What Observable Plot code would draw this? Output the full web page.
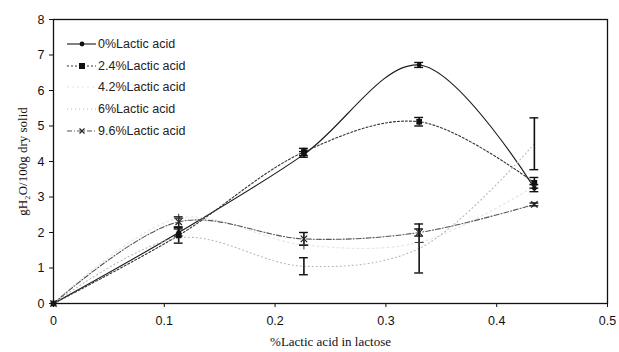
<!DOCTYPE html>
<html>
<head>
<meta charset="utf-8">
<script src="https://cdn.jsdelivr.net/npm/d3@7"></script>
<script src="https://cdn.jsdelivr.net/npm/@observablehq/plot@0.6"></script>
<style>
  body { margin: 0; background: #fff; }
  #wrap { position: relative; width: 619px; height: 352px; }
  svg.chart { font-family: "Liberation Sans", Arial, sans-serif; font-size: 12.5px; }
  g[aria-label="x-axis label"] text, g[aria-label="y-axis label"] text {
    font-family: "Liberation Serif", "Times New Roman", serif; font-size: 13px;
  }
  #legend { position: absolute; left: 66px; top: 33px; font-family: "Liberation Sans", Arial, sans-serif; font-size: 12.5px; color: #222; }
  #legend .row { height: 21.8px; display: flex; align-items: center; }
  #legend svg { width: 31px; height: 12px; margin-right: 1px; }
</style>
</head>
<body>
<div id="wrap"></div>
<script>
const xs = [0, 0.113, 0.226, 0.330, 0.434];
const seriesNames = ["0%Lactic acid", "2.4%Lactic acid", "4.2%Lactic acid", "6%Lactic acid", "9.6%Lactic acid"];
const values = {
  "0%Lactic acid":   [0, 2.0, 4.2, 6.72, 3.25],
  "2.4%Lactic acid": [0, 1.92, 4.27, 5.12, 3.4],
  "4.2%Lactic acid": [0, 2.4, 1.65, 1.72, 3.3],
  "6%Lactic acid":   [0, 1.85, 1.05, 1.55, 4.5],
  "9.6%Lactic acid": [0, 2.3, 1.82, 2.0, 2.79]
};
const errors = {
  "0%Lactic acid":   [0, 0.1, 0.08, 0.07, 0.1],
  "2.4%Lactic acid": [0, 0.22, 0.1, 0.12, 0.15],
  "4.2%Lactic acid": [0, 0, 0, 0, 0],
  "6%Lactic acid":   [0, 0, 0.24, 0.69, 0.73],
  "9.6%Lactic acid": [0, 0.14, 0.18, 0.1, 0.04]
};
const strokes = ["#1a1a1a", "#333333", "#e4e4e4", "#b8b8b8", "#555555"];
const dashes = ["none", "2,2", "2,3", "1,3", "5,2,1,2"];
const symbols = ["circle", "square", null, null, "times"];
const yTicks = [0, 1, 2, 3, 4, 5, 6, 7, 8];
const xTicks = [0, 0.1, 0.2, 0.3, 0.4, 0.5];

const rows = [];
seriesNames.forEach((s, si) => values[s].forEach((v, i) => rows.push({s, si, x: xs[i], y: v, e: errors[s][i]})));
const errRows = rows.filter(d => d.e > 0);
const capW = 0.004;

const marks = [];
seriesNames.forEach((s, si) => {
  marks.push(Plot.line(rows.filter(d => d.si === si), {
    x: "x", y: "y", curve: "catmull-rom", stroke: strokes[si], strokeWidth: 1.1,
    strokeDasharray: dashes[si]
  }));
});
marks.push(Plot.ruleX(errRows, {x: "x", y1: d => d.y - d.e, y2: d => d.y + d.e, stroke: "#111", strokeWidth: 1.6}));
marks.push(Plot.ruleY(errRows, {y: d => d.y - d.e, x1: d => d.x - capW, x2: d => d.x + capW, stroke: "#111", strokeWidth: 1.4}));
marks.push(Plot.ruleY(errRows, {y: d => d.y + d.e, x1: d => d.x - capW, x2: d => d.x + capW, stroke: "#111", strokeWidth: 1.4}));
seriesNames.forEach((s, si) => {
  if (!symbols[si]) return;
  const pts = rows.filter(d => d.si === si);
  if (symbols[si] === "times") {
    marks.push(Plot.dot(pts, {x: "x", y: "y", symbol: "times", r: 3, stroke: "#222", strokeWidth: 1.2}));
  } else {
    marks.push(Plot.dot(pts, {x: "x", y: "y", symbol: symbols[si], r: symbols[si] === "square" ? 3.2 : 2.4, fill: "#111", stroke: "none"}));
  }
});
// plus markers of the faint 4.2% series
marks.push(Plot.dot(rows.filter(d => d.si === 2 && d.x > 0 && d.x < 0.4), {x: "x", y: "y", symbol: "plus", r: 3, stroke: "#333", strokeWidth: 1}));
marks.push(Plot.frame({stroke: "#111", strokeWidth: 1.3}));

const chart = Plot.plot({
  width: 619, height: 352,
  marginLeft: 53, marginRight: 12, marginTop: 19, marginBottom: 49,
  className: "chart",
  style: {background: "#fff", color: "#111"},
  x: {domain: [0, 0.5], ticks: xTicks, tickFormat: d => String(+d.toFixed(1)), tickSize: 4, tickPadding: 9,
      label: "%Lactic acid in lactose", labelAnchor: "center", labelOffset: 42, labelArrow: "none"},
  y: {domain: [0, 8], ticks: yTicks, tickSize: 4, tickPadding: 5,
      label: "gH\u2082O/100g dry solid", labelAnchor: "center", labelOffset: 36, labelArrow: "none"},
  marks
});
const wrap = document.getElementById("wrap");
wrap.appendChild(chart);

// legend overlay
const legend = document.createElement("div");
legend.id = "legend";
seriesNames.forEach((s, si) => {
  const row = document.createElement("div");
  row.className = "row";
  let sym = "";
  if (symbols[si] === "circle") sym = `<circle cx="16" cy="6" r="2.4" fill="#111"/>`;
  if (symbols[si] === "square") sym = `<rect x="13" y="3" width="6" height="6" fill="#111"/>`;
  if (symbols[si] === "times") sym = `<path d="M13.5,3.5L18.5,8.5M18.5,3.5L13.5,8.5" stroke="#222" stroke-width="1.2"/>`;
  row.innerHTML = `<svg viewBox="0 0 31 12"><line x1="1" y1="6" x2="30" y2="6" stroke="${strokes[si]}" stroke-width="1.1" stroke-dasharray="${dashes[si]}"/>${sym}</svg><span>${s}</span>`;
  legend.appendChild(row);
});
wrap.appendChild(legend);
</script>
</body>
</html>
